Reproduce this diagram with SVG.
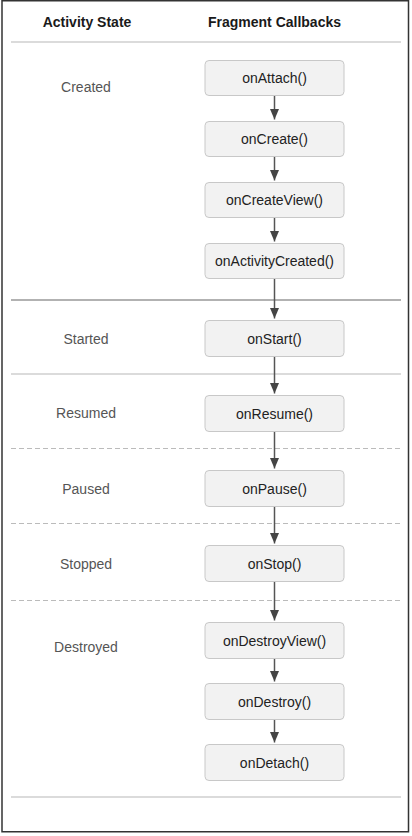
<svg xmlns="http://www.w3.org/2000/svg" width="412" height="836" viewBox="0 0 412 836">
<style>
.hdr{font-family:"Liberation Sans",Arial,sans-serif;font-size:14px;font-weight:bold;fill:#1a1a1a;text-anchor:middle}
.st{font-family:"Liberation Sans",Arial,sans-serif;font-size:14px;fill:#555;text-anchor:middle}
.bx{fill:#f2f2f2;stroke:#c8c8c8;stroke-width:1}
.bt{font-family:"Liberation Sans",Arial,sans-serif;font-size:14px;fill:#222;text-anchor:middle}
.sep{stroke:#cfcfcf;stroke-width:1.5}
.sepd{stroke:#999;stroke-width:1.5}
.dash{stroke:#bbb;stroke-width:1;stroke-dasharray:5 3}
.ar{stroke:#555;stroke-width:1.5;fill:none;marker-end:url(#ah)}
</style>
<defs>
<marker id="ah" markerUnits="userSpaceOnUse" markerWidth="11" markerHeight="10" refX="10.5" refY="4.5" orient="auto" viewBox="0 0 11 9">
<path d="M0,0 L10.5,4.5 L0,9 Z" fill="#444"/>
</marker>
</defs>
<rect x="0" y="0" width="412" height="836" fill="#fff"/>
<rect x="2" y="0.75" width="406.5" height="831" fill="none" stroke="#333" stroke-width="1.5"/>
<g id="headers">
<text class="hdr" x="87" y="27">Activity State</text>
<text class="hdr" x="274.5" y="27">Fragment Callbacks</text>
</g>
<g id="separators">
<line class="sep" x1="11" y1="42" x2="401" y2="42"/>
<line class="sepd" x1="11" y1="300" x2="401" y2="300"/>
<line class="sep" x1="11" y1="374" x2="401" y2="374"/>
<line class="dash" x1="11" y1="448.5" x2="401" y2="448.5"/>
<line class="dash" x1="11" y1="523.5" x2="401" y2="523.5"/>
<line class="dash" x1="11" y1="600.5" x2="401" y2="600.5"/>
<line class="sep" x1="11" y1="797" x2="401" y2="797"/>
</g>
<g id="states">
<text class="st" x="86" y="92">Created</text>
<text class="st" x="86" y="344">Started</text>
<text class="st" x="86" y="418">Resumed</text>
<text class="st" x="86" y="494">Paused</text>
<text class="st" x="86" y="569">Stopped</text>
<text class="st" x="86" y="652">Destroyed</text>
</g>
<g id="connectors">
<line class="ar" x1="274.5" y1="95.5" x2="274.5" y2="119.5"/>
<line class="ar" x1="274.5" y1="156.5" x2="274.5" y2="180.5"/>
<line class="ar" x1="274.5" y1="217.5" x2="274.5" y2="241.5"/>
<line class="ar" x1="274.5" y1="278.5" x2="274.5" y2="318.5"/>
<line class="ar" x1="274.5" y1="356.5" x2="274.5" y2="393.5"/>
<line class="ar" x1="274.5" y1="431.5" x2="274.5" y2="468.5"/>
<line class="ar" x1="274.5" y1="506.5" x2="274.5" y2="543.5"/>
<line class="ar" x1="274.5" y1="581.5" x2="274.5" y2="620.5"/>
<line class="ar" x1="274.5" y1="658.5" x2="274.5" y2="681.5"/>
<line class="ar" x1="274.5" y1="719.5" x2="274.5" y2="742.5"/>
</g>
<g id="onAttach"><rect class="bx" x="205" y="60.5" width="139" height="35" rx="4"/><text class="bt" x="274.5" y="83">onAttach()</text></g>
<g id="onCreate"><rect class="bx" x="205" y="121.5" width="139" height="35" rx="4"/><text class="bt" x="274.5" y="144">onCreate()</text></g>
<g id="onCreateView"><rect class="bx" x="205" y="182.5" width="139" height="35" rx="4"/><text class="bt" x="274.5" y="205">onCreateView()</text></g>
<g id="onActivityCreated"><rect class="bx" x="205" y="243.5" width="139" height="35" rx="4"/><text class="bt" x="274.5" y="266">onActivityCreated()</text></g>
<g id="onStart"><rect class="bx" x="205" y="320.5" width="139" height="36" rx="4"/><text class="bt" x="274.5" y="343.5">onStart()</text></g>
<g id="onResume"><rect class="bx" x="205" y="395.5" width="139" height="36" rx="4"/><text class="bt" x="274.5" y="418.5">onResume()</text></g>
<g id="onPause"><rect class="bx" x="205" y="470.5" width="139" height="36" rx="4"/><text class="bt" x="274.5" y="493.5">onPause()</text></g>
<g id="onStop"><rect class="bx" x="205" y="545.5" width="139" height="36" rx="4"/><text class="bt" x="274.5" y="568.5">onStop()</text></g>
<g id="onDestroyView"><rect class="bx" x="205" y="622.5" width="139" height="36" rx="4"/><text class="bt" x="274.5" y="645.5">onDestroyView()</text></g>
<g id="onDestroy"><rect class="bx" x="205" y="683.5" width="139" height="36" rx="4"/><text class="bt" x="274.5" y="706.5">onDestroy()</text></g>
<g id="onDetach"><rect class="bx" x="205" y="744.5" width="139" height="36" rx="4"/><text class="bt" x="274.5" y="767.5">onDetach()</text></g>
</svg>
